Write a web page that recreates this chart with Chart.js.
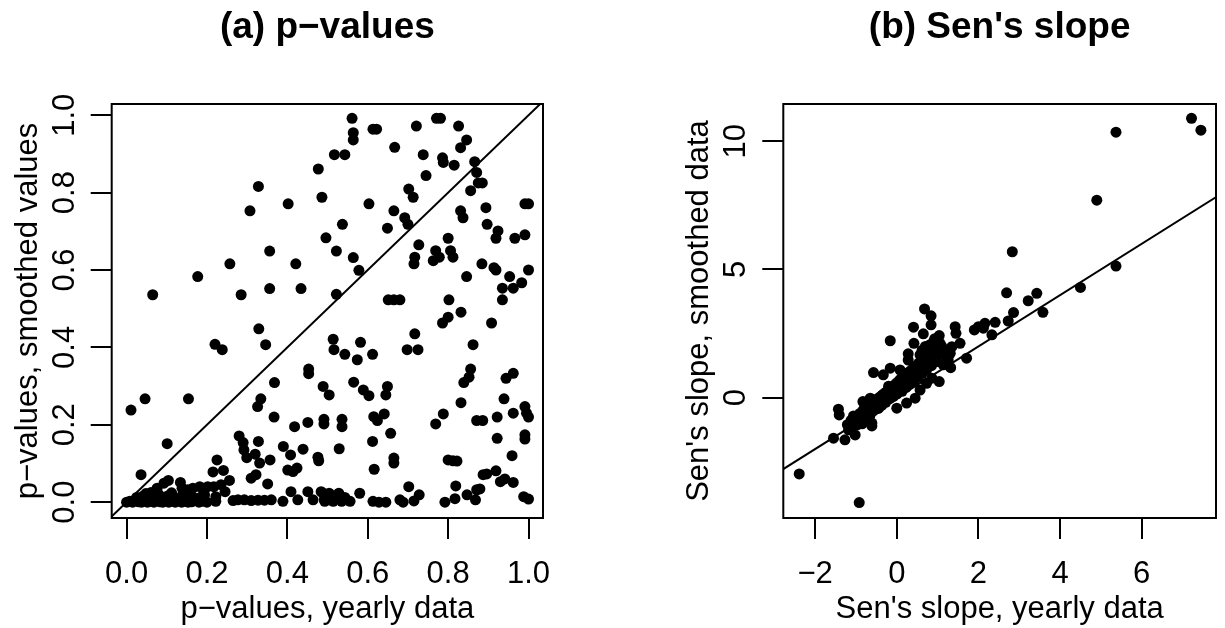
<!DOCTYPE html>
<html lang="en">
<head>
<meta charset="UTF-8">
<title>p-values and Sen's slope</title>
<script src="https://cdn.jsdelivr.net/npm/chart.js"></script>
<style>
  body { margin: 0; background: #fff; }
  .panel { position: absolute; top: 0; }
</style>
</head>
<body>
<div class="panel" style="left:0"><canvas id="pvalChart" width="612" height="628"></canvas></div>
<div class="panel" style="left:612px"><canvas id="senChart" width="613" height="628"></canvas></div>

<script>
// (a) p-values: [yearly, smoothed]
const pValuePairs = [
  [0.000,0.000],[0.008,0.002],[0.015,0.000],[0.022,0.004],[0.030,0.001],[0.037,0.000],[0.045,0.003],[0.052,0.000],
  [0.060,0.002],[0.068,0.000],[0.075,0.004],[0.083,0.001],[0.090,0.000],[0.098,0.003],[0.105,0.000],[0.113,0.002],
  [0.121,0.000],[0.129,0.003],[0.137,0.000],[0.145,0.002],[0.153,0.000],[0.162,0.001],[0.171,0.004],[0.180,0.000],
  [0.190,0.002],[0.200,0.000],
  [0.025,0.012],[0.040,0.015],[0.055,0.010],[0.070,0.014],[0.088,0.011],[0.102,0.016],[0.118,0.012],[0.135,0.010],
  [0.150,0.015],[0.168,0.011],[0.185,0.013],[0.048,0.022],[0.080,0.020],[0.112,0.024],[0.140,0.021],
  [0.061,0.025],[0.076,0.036],[0.093,0.049],[0.104,0.056],[0.134,0.051],[0.138,0.036],[0.152,0.032],[0.165,0.036],
  [0.182,0.040],[0.202,0.040],[0.194,0.019],[0.036,0.071],[0.101,0.151],[0.011,0.238],[0.046,0.267],[0.154,0.267],
  [0.065,0.536],[0.177,0.583],
  [0.215,0.078],[0.241,0.082],[0.225,0.109],[0.256,0.056],[0.235,0.045],[0.217,0.040],[0.245,0.027],[0.222,0.014],
  [0.222,0.002],[0.265,0.004],[0.277,0.006],[0.293,0.006],[0.310,0.004],[0.327,0.005],[0.343,0.005],[0.360,0.006],
  [0.389,0.002],[0.409,0.027],[0.426,0.006],[0.451,0.027],[0.464,0.006],[0.484,0.027],[0.492,0.006],
  [0.310,0.062],[0.322,0.071],[0.351,0.047],[0.401,0.083],[0.414,0.079],[0.424,0.088],[0.280,0.171],[0.290,0.154],
  [0.292,0.135],[0.299,0.115],[0.328,0.157],[0.320,0.124],[0.331,0.101],[0.357,0.109],[0.390,0.144],[0.408,0.122],
  [0.439,0.137],[0.476,0.116],[0.478,0.107],[0.418,0.195],[0.451,0.206],[0.491,0.214],[0.491,0.202],[0.367,0.220],
  [0.368,0.309],[0.334,0.267],[0.326,0.247],[0.453,0.344],[0.453,0.332],[0.489,0.299],[0.504,0.277],[0.329,0.448],
  [0.346,0.407],[0.220,0.408],[0.238,0.394],
  [0.489,0.023],[0.504,0.023],[0.528,0.023],[0.493,0.002],[0.514,0.002],[0.535,0.002],[0.556,0.002],[0.543,0.012],
  [0.580,0.023],[0.613,0.002],[0.628,0.000],[0.645,0.000],[0.680,0.006],[0.688,0.000],[0.702,0.040],[0.728,0.019],
  [0.715,0.003],[0.616,0.085],[0.665,0.114],[0.665,0.101],[0.529,0.138],[0.612,0.157],[0.657,0.178],[0.615,0.221],
  [0.624,0.211],[0.641,0.228],[0.536,0.214],[0.536,0.195],[0.565,0.310],[0.589,0.290],[0.603,0.275],[0.649,0.299],
  [0.645,0.277],[0.514,0.421],[0.516,0.394],[0.582,0.413],[0.543,0.382],[0.574,0.368],[0.612,0.382],[0.717,0.435],
  [0.698,0.394],[0.725,0.394],[0.832,0.491],[0.800,0.478],[0.786,0.463],[0.908,0.463],[0.862,0.407],[0.856,0.344],
  [0.852,0.323],[0.839,0.309],[0.962,0.333],[0.944,0.320],[0.939,0.267],[0.832,0.257],[0.788,0.228],[0.769,0.202],
  [0.962,0.230],[0.991,0.247],[0.995,0.230],[1.000,0.220],[0.922,0.220],[0.871,0.211],[0.886,0.211],[0.922,0.165],
  [0.991,0.174],[0.991,0.163],[0.959,0.120],[0.800,0.109],[0.812,0.107],[0.822,0.106],[0.887,0.071],[0.896,0.073],
  [0.919,0.081],[0.930,0.053],[0.941,0.060],[0.962,0.051],[0.819,0.042],[0.817,0.009],[0.792,0.000],[0.847,0.019],
  [0.871,0.032],[0.879,0.034],[0.868,0.006],[0.988,0.014],[1.000,0.008],
  [0.477,0.861],[0.328,0.816],[0.486,0.788],[0.402,0.771],[0.307,0.753],[0.496,0.683],[0.356,0.649],[0.257,0.616],
  [0.421,0.616],[0.285,0.536],[0.356,0.552],[0.434,0.552],
  [0.561,0.992],[0.564,0.955],[0.564,0.936],[0.613,0.964],[0.622,0.964],[0.721,0.972],[0.771,0.992],[0.781,0.992],
  [0.826,0.972],[0.846,0.936],[0.831,0.916],[0.667,0.917],[0.517,0.898],[0.543,0.898],[0.738,0.898],[0.786,0.890],
  [0.788,0.878],[0.815,0.871],[0.866,0.880],[0.871,0.852],[0.745,0.844],[0.875,0.825],[0.885,0.825],[0.856,0.805],
  [0.702,0.809],[0.713,0.788],[0.603,0.771],[0.665,0.753],[0.692,0.735],[0.700,0.718],[0.649,0.708],[0.537,0.718],
  [0.522,0.649],[0.564,0.632],[0.578,0.599],[0.522,0.537],[0.831,0.753],[0.837,0.735],[0.894,0.761],[0.991,0.771],
  [1.000,0.771],[0.897,0.718],[0.924,0.701],[0.919,0.682],[0.966,0.682],[0.991,0.691],[0.800,0.682],[0.727,0.665],
  [0.769,0.650],[0.778,0.633],[0.763,0.624],[0.806,0.650],[0.812,0.633],[0.717,0.633],[0.715,0.616],[0.884,0.616],
  [0.914,0.606],[0.919,0.600],[1.000,0.600],[0.846,0.583],[0.953,0.583],[0.935,0.553],[0.962,0.553],[0.983,0.567],
  [0.651,0.523],[0.665,0.523],[0.680,0.523],[0.802,0.523],[0.935,0.523]
];

// (b) Sen's slope: [yearly, smoothed]
const senSlopePairs = [
  [-2.39,-2.97],[-0.92,-4.09],[-0.16,2.22],[0.68,3.46],[0.84,3.19],[0.84,2.84],[0.41,2.75],[0.65,2.49],
  [0.42,2.12],[0.28,1.71],[0.28,1.47],[0.57,1.67],[1.04,2.42],[1.06,2.12],[0.90,2.19],[0.97,2.06],
  [1.43,2.77],[1.45,2.51],[1.90,2.64],[2.00,2.77],[2.16,2.90],[2.12,2.71],[2.41,2.94],[2.33,2.45],
  [2.73,2.99],[2.86,3.32],[2.69,4.09],[3.22,3.78],[3.43,4.07],[3.58,3.33],[4.50,4.30],[4.90,7.70],
  [5.37,10.35],[5.37,5.13],[7.22,10.89],[7.45,10.43],[2.83,5.69],
  [1.35,1.99],[1.55,2.12],[1.31,1.73],[1.71,1.54],[1.32,1.17],[1.04,0.63],[-0.57,0.98],[-0.33,0.89],
  [-0.16,1.15],[0.08,1.08],[-1.43,-0.45],[-1.41,-0.67],[-1.55,-1.58],[-1.27,-1.64],[-1.02,-1.45],[-0.61,-1.10],
  [0.45,-0.02],[0.24,-0.21],[0.00,-0.41],[0.98,1.41],[1.14,1.28],[1.26,1.47],[0.57,0.30],[0.73,0.56],
  [0.86,0.76],[-0.83,-0.15],[-0.65,-0.02],[-0.82,-0.48],[-1.06,-0.71],[-0.94,-0.93],[-1.14,-1.13],[-0.61,-0.99],
  [-1.21,-1.05],[-1.18,-1.25],[-1.12,-0.88],[-1.08,-1.15],[-1.05,-0.98],[-1.01,-0.75],[-0.98,-0.95],[-0.96,-1.05],
  [-0.93,-0.80],[-0.91,-0.62],[-0.88,-0.78],[-0.86,-0.90],[-0.84,-0.55],[-0.81,-0.70],[-0.79,-0.45],[-0.77,-0.62],
  [-0.75,-0.80],[-0.73,-0.52],[-0.71,-0.35],[-0.69,-0.58],[-0.67,-0.47],[-0.66,-0.70],[-0.64,-0.28],[-0.62,-0.40],
  [-0.60,-0.20],[-0.58,-0.52],[-0.56,-0.33],[-0.55,-0.10],[-0.53,-0.45],[-0.51,-0.18],[-0.50,-0.35],[-0.48,-0.05],
  [-0.47,-0.27],[-0.45,-0.42],[-0.44,-0.12],[-0.42,0.02],[-0.41,-0.20],[-0.39,-0.08],[-0.37,-0.30],[-0.36,0.10],
  [-0.34,-0.15],[-0.32,0.15],[-0.31,-0.05],[-0.29,0.06],[-0.27,-0.18],[-0.26,0.22],[-0.24,-0.02],[-0.22,0.08],
  [-0.21,0.30],[-0.19,0.12],[-0.18,-0.05],[-0.16,0.25],[-0.14,0.00],[-0.12,0.40],[-0.11,0.18],[-0.09,0.30],
  [-0.08,0.05],[-0.06,0.48],[-0.05,0.22],[-0.03,0.35],[-0.02,0.55],[0.00,0.42],[0.01,0.15],[0.03,0.62],
  [0.04,0.30],[0.06,0.50],[0.08,0.70],[0.10,0.45],[0.11,0.60],[0.13,0.25],[0.14,0.80],[0.16,0.62],
  [0.18,0.85],[0.20,0.55],[0.21,0.72],[0.23,0.40],[0.24,0.95],[0.26,0.78],[0.28,0.98],[0.30,0.70],
  [0.31,0.88],[0.33,0.55],[0.34,1.05],[0.36,0.92],[0.38,1.10],[0.40,0.85],[0.41,1.00],[0.43,0.70],
  [0.44,1.20],[0.46,1.05],[0.48,1.25],[0.50,0.95],[0.51,1.15],[0.53,0.80],[0.54,1.35],[0.56,1.20],
  [0.58,1.40],[0.60,1.10],[0.61,1.28],[0.63,0.95],[0.64,1.50],[0.66,1.32],[0.68,1.55],[0.70,1.22],
  [0.72,1.42],[0.73,1.08],[0.75,1.65],[0.77,1.48],[0.79,1.70],[0.81,1.35],[0.83,1.58],[0.85,1.25],
  [0.88,1.62],[0.90,1.85],[0.92,1.50],[0.95,1.75],[0.98,1.90],[1.00,1.65],[1.03,1.95],[1.05,1.80],
  [1.10,2.00],[1.15,1.85],[1.20,1.62],[0.93,2.30],[0.62,1.85],[0.70,2.00],[0.80,2.05],[-0.70,-0.88],
  [-0.20,0.45],[0.15,0.38],[0.35,0.68],[0.55,1.02],[-0.45,-0.30],[-0.85,-1.02]
];

// axis limits and ticks
const pValueXLim = [-0.037, 1.036];
const pValueYLim = [-0.041, 1.029];
const pValueTicks = [0, 0.2, 0.4, 0.6, 0.8, 1.0];
const senXLim = [-2.78, 7.82];
const senYLim = [-4.69, 11.45];
const senXTicks = [-2, 0, 2, 4, 6];
const senYTicks = [0, 5, 10];

Chart.defaults.font.family = "'Liberation Sans', Arial, sans-serif";
Chart.defaults.font.size = 31;
Chart.defaults.color = '#000';

// R style box round the plot region
const boxPlugin = {
  id: 'box',
  afterDraw(chart) {
    const { ctx, chartArea: a } = chart;
    ctx.save();
    ctx.strokeStyle = '#000';
    ctx.lineWidth = 2;
    ctx.strokeRect(a.left, a.top, a.right - a.left, a.bottom - a.top);
    ctx.restore();
  }
};

function axis(lim, ticks, fmt, title, isX, tickPad) {
  return {
    type: 'linear',
    min: lim[0],
    max: lim[1],
    afterBuildTicks: s => { s.ticks = ticks.map(v => ({ value: v })); },
    afterFit: s => { if (isX) s.height = 110; else s.width = 111.7; },
    grid: { drawOnChartArea: false, tickLength: 21, color: '#000', lineWidth: 2 },
    border: { display: false },
    ticks: {
      callback: fmt,
      padding: tickPad,
      autoSkip: false,
      minRotation: isX ? 0 : 90,
      maxRotation: isX ? 0 : 90,
      crossAlign: isX ? 'near' : 'center'
    },
    title: {
      display: true,
      text: title,
      padding: isX ? { top: 0, bottom: 0 } : { top: 9.4, bottom: 0 }
    }
  };
}

function makePanel(canvasId, points, xLim, yLim, xTicks, yTicks, fmt, titles, padding, yTickPad) {
  new Chart(document.getElementById(canvasId), {
    type: 'scatter',
    data: {
      datasets: [
        {
          // 1:1 line
          data: [{ x: -20, y: -20 }, { x: 20, y: 20 }],
          showLine: true,
          borderColor: '#000',
          borderWidth: 2,
          pointRadius: 0
        },
        {
          data: points.map(p => ({ x: p[0], y: p[1] })),
          pointRadius: 5.5,
          backgroundColor: '#000',
          borderWidth: 0
        }
      ]
    },
    options: {
      responsive: false,
      animation: false,
      layout: { padding: padding },
      plugins: {
        legend: { display: false },
        tooltip: { enabled: false },
        title: {
          display: true,
          text: titles[0],
          fullSize: false,
          font: { size: 37, weight: 'bold' },
          padding: { top: 5.8, bottom: 53.8 }
        }
      },
      scales: {
        x: axis(xLim, xTicks, fmt, titles[1], true, 17),
        y: axis(yLim, yTicks, fmt, titles[2], false, yTickPad)
      }
    },
    plugins: [boxPlugin]
  });
}

const fmtP = v => v.toFixed(1);
const fmtSen = v => String(v).replace('-', '\u2212');

makePanel('pvalChart', pValuePairs, pValueXLim, pValueYLim, pValueTicks, pValueTicks, fmtP,
  ['(a) p\u2212values', 'p\u2212values, yearly data', 'p\u2212values, smoothed values'],
  { left: 0, right: 69, top: 0, bottom: 0 }, 4);

makePanel('senChart', senSlopePairs, senXLim, senYLim, senXTicks, senYTicks, fmtSen,
  ["(b) Sen's slope", "Sen's slope, yearly data", "Sen's slope, smoothed data"],
  { left: 59.6, right: 9, top: 0, bottom: 0 }, 8.5);
</script>
</body>
</html>
